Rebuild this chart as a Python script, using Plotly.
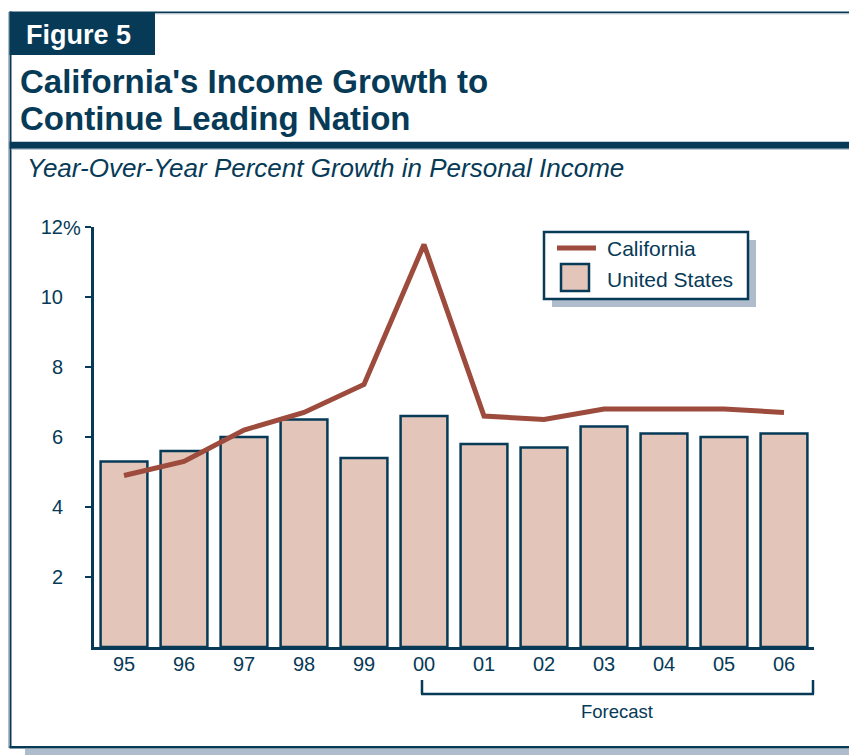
import plotly.graph_objects as go

# Year-over-year percent growth in personal income
years = ["95", "96", "97", "98", "99", "00", "01", "02", "03", "04", "05", "06"]
us_growth = [5.3, 5.6, 6.0, 6.5, 5.4, 6.6, 5.8, 5.7, 6.3, 6.1, 6.0, 6.1]
ca_growth = [4.9, 5.3, 6.2, 6.7, 7.5, 11.5, 6.6, 6.5, 6.8, 6.8, 6.8, 6.7]
y_ticks = [2, 4, 6, 8, 10, 12]
y_tick_text = ["2", "4", "6", "8", "10", "12"]

W, H = 849, 755
NAVY = "#063a57"
LIGHT = "#aebccc"
BAR_FILL = "#e3c6b9"
LINE_RED = "#9c4b3c"
FONT = "Liberation Sans, Arial, sans-serif"


def px(x):
    return x / W


def py(y):
    return 1 - y / H


fig = go.Figure()

fig.add_trace(go.Bar(
    x=years, y=us_growth, name="United States",
    marker=dict(color=BAR_FILL, line=dict(color=NAVY, width=2.5)),
    showlegend=False,
))
fig.add_trace(go.Scatter(
    x=years, y=ca_growth, name="California", mode="lines",
    line=dict(color=LINE_RED, width=5),
    showlegend=False,
))

shapes = []


def rect(x0, y0, x1, y1, color, line_color=None, line_width=0):
    shapes.append(dict(
        type="rect", xref="paper", yref="paper",
        x0=px(x0), x1=px(x1), y0=py(y0), y1=py(y1),
        fillcolor=color,
        line=dict(color=line_color or color, width=line_width),
    ))


def seg(x0, y0, x1, y1, color, width):
    shapes.append(dict(
        type="line", xref="paper", yref="paper",
        x0=px(x0), x1=px(x1), y0=py(y0), y1=py(y1),
        line=dict(color=color, width=width),
    ))


# page frame
rect(25, 749, 849, 755, LIGHT)
seg(8.5, 12, 8.5, 748, LIGHT, 1)
rect(9.5, 11.5, 11.5, 748, NAVY)
rect(9.5, 746, 849, 748.5, NAVY)
rect(9.5, 11.5, 849, 13.2, NAVY)
seg(11.5, 13.8, 849, 13.8, LIGHT, 1)
rect(9.5, 13, 155, 55, NAVY)
rect(9.5, 141.7, 849, 148.7, NAVY)
seg(11.5, 149.3, 849, 149.3, LIGHT, 1)

# legend box with drop shadow
rect(552, 240, 756, 307, LIGHT)
rect(544, 232, 748, 299, "white", NAVY, 2.5)
seg(557, 248, 596, 248, LINE_RED, 5)
rect(561, 264, 589, 291, BAR_FILL, NAVY, 2.5)

# forecast bracket
seg(422, 680, 422, 694, NAVY, 2.5)
seg(813, 680, 813, 694, NAVY, 2.5)
seg(421, 694, 814, 694, NAVY, 2.5)

annotations = []


def text(x, y, s, size, color=NAVY, bold=False, italic=False, anchor="left"):
    if bold:
        s = "<b>" + s + "</b>"
    if italic:
        s = "<i>" + s + "</i>"
    annotations.append(dict(
        xref="paper", yref="paper", x=px(x), y=py(y), text=s,
        showarrow=False, xanchor=anchor, yanchor="middle",
        font=dict(family=FONT, size=size, color=color),
        borderpad=0,
    ))


text(25, 35, "Figure 5", 27, color="white", bold=True)
text(19, 81, "California's Income Growth to", 33, bold=True)
text(19, 118, "Continue Leading Nation", 33, bold=True)
text(26, 168, "Year-Over-Year Percent Growth in Personal Income", 26, italic=True)
text(606, 248, "California", 21)
text(606, 279, "United States", 21)
text(617, 711, "Forecast", 18.5, anchor="center")
text(62, 228, "%", 20)

fig.update_layout(
    width=W, height=H,
    margin=dict(l=0, r=0, t=0, b=0, autoexpand=False),
    paper_bgcolor="white", plot_bgcolor="white",
    bargap=0.22,
    shapes=shapes,
    annotations=annotations,
    xaxis=dict(
        domain=[px(94), px(814)],
        range=[-0.5, 11.5],
        automargin=False,
        showgrid=False, zeroline=False,
        showline=True, linecolor=NAVY, linewidth=3,
        ticks="", ticklabelstandoff=-3,
        tickfont=dict(family=FONT, size=20, color=NAVY),
    ),
    yaxis=dict(
        domain=[py(647), py(227)],
        range=[0, 12],
        automargin=False,
        showgrid=False, zeroline=False,
        showline=True, linecolor=NAVY, linewidth=3,
        ticks="outside", ticklen=6, tickwidth=2, tickcolor=NAVY,
        tickvals=y_ticks, ticktext=y_tick_text,
        ticklabelstandoff=18,
        tickfont=dict(family=FONT, size=20, color=NAVY),
    ),
)

fig.write_html("out.html")
